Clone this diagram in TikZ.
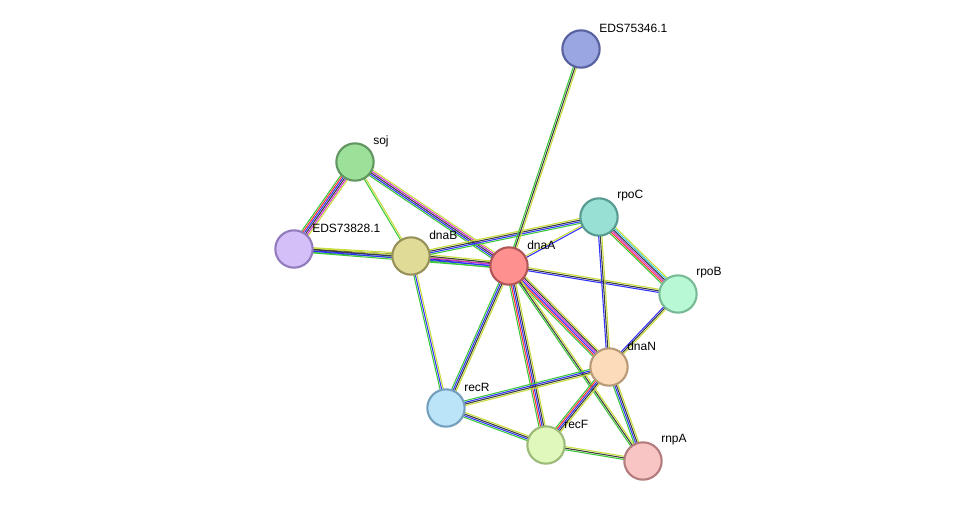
\documentclass[tikz,border=0pt]{standalone}
\usepackage{fontspec}
\setmainfont{Liberation Sans}
\usetikzlibrary{calc,backgrounds}

\definecolor{egreen}{HTML}{3CC83C}
\definecolor{eblue}{HTML}{3232FF}
\definecolor{eblack}{HTML}{3C3C3C}
\definecolor{eyellow}{HTML}{C8DC3C}
\definecolor{ered}{HTML}{FF3232}
\definecolor{emagenta}{HTML}{D232D2}
\definecolor{ecyan}{HTML}{3CC8DC}

% #1,#2 nodes, #3 number of lines, #4 colours
\newcommand\stringedge[4]{%
  \foreach \c [count=\i] in {#4} {
    \pgfmathsetmacro\off{(\i-(#3+1)/2)*1.2}
    \draw[\c, line width=0.8pt] ($(#1.center)!\off pt!90:(#2.center)$) -- ($(#2.center)!\off pt!-90:(#1.center)$);
  }%
}

\begin{document}
\begin{tikzpicture}[x=0.75pt,y=-0.75pt]

  \tikzset{prot/.style={circle, minimum size=28pt, inner sep=0pt, line width=1.6pt},
           plabel/.style={anchor=west, font=\fontsize{9}{10}\selectfont, inner sep=0pt}}

  \useasboundingbox (0,0) rectangle (976,507);

  \node (eds75) [prot, fill={rgb,255:red,154;green,166;blue,224}, draw={rgb,255:red,88;green,98;blue,160}] at (581,49) {};
  \node (soj) [prot, fill={rgb,255:red,157;green,224;blue,154}, draw={rgb,255:red,98;green,150;blue,96}] at (355,162) {};
  \node (eds73) [prot, fill={rgb,255:red,212;green,191;blue,248}, draw={rgb,255:red,146;green,124;blue,190}] at (294,249) {};
  \node (dnaB) [prot, fill={rgb,255:red,224;green,220;blue,152}, draw={rgb,255:red,150;green,146;blue,90}] at (411,256) {};
  \node (dnaA) [prot, fill={rgb,255:red,255;green,144;blue,144}, draw={rgb,255:red,176;green,86;blue,86}] at (509,266) {};
  \node (rpoC) [prot, fill={rgb,255:red,152;green,224;blue,212}, draw={rgb,255:red,86;green,154;blue,144}] at (599,217) {};
  \node (rpoB) [prot, fill={rgb,255:red,184;green,248;blue,212}, draw={rgb,255:red,120;green,186;blue,150}] at (678,294) {};
  \node (dnaN) [prot, fill={rgb,255:red,252;green,220;blue,184}, draw={rgb,255:red,184;green,154;blue,120}] at (609,367) {};
  \node (recR) [prot, fill={rgb,255:red,188;green,228;blue,248}, draw={rgb,255:red,116;green,160;blue,190}] at (446,408) {};
  \node (recF) [prot, fill={rgb,255:red,224;green,248;blue,188}, draw={rgb,255:red,156;green,186;blue,120}] at (546,445) {};
  \node (rnpA) [prot, fill={rgb,255:red,248;green,196;blue,196}, draw={rgb,255:red,180;green,124;blue,124}] at (643,461) {};

  % labels
  \foreach \n/\t in {eds75/EDS75346.1, soj/soj, eds73/EDS73828.1, dnaB/dnaB, dnaA/dnaA, rpoC/rpoC,
                     rpoB/rpoB, dnaN/dnaN, recR/recR, recF/recF, rnpA/rnpA}
    \node [plabel] at ($(\n.center)+(18,-21)$) {\t};

  % edges
  \begin{pgfonlayer}{background}
    \stringedge{soj}{eds73}{6}{egreen,ered,eblue,eblack,emagenta,eyellow}
    \stringedge{soj}{dnaB}{2}{egreen,eyellow}
    \stringedge{soj}{dnaA}{5}{egreen,eblue,eblack,emagenta,eyellow}
    \stringedge{eds73}{dnaB}{4}{egreen,eblue,eblack,eyellow}
    \stringedge{eds73}{dnaA}{4}{egreen,eblue,eblack,eyellow}
    \stringedge{dnaB}{dnaA}{5}{egreen,eblue,emagenta,eblack,eyellow}
    \stringedge{dnaB}{rpoC}{4}{egreen,eblue,eblack,eyellow}
    \stringedge{dnaB}{recR}{3}{egreen,eblue,eyellow}
    \stringedge{dnaA}{eds75}{3}{eyellow,eblack,egreen}
    \stringedge{dnaA}{rpoC}{2}{eblue,eyellow}
    \stringedge{dnaA}{rpoB}{3}{eblue,eblack,eyellow}
    \stringedge{dnaA}{dnaN}{6}{egreen,ered,eblue,emagenta,eblack,eyellow}
    \stringedge{dnaA}{recR}{4}{egreen,eblue,eblack,eyellow}
    \stringedge{dnaA}{recF}{5}{egreen,ered,eblue,eblack,eyellow}
    \stringedge{dnaA}{rnpA}{3}{egreen,eblack,eyellow}
    \stringedge{rpoC}{rpoB}{6}{egreen,ered,emagenta,eblack,ecyan,eyellow}
    \stringedge{rpoC}{dnaN}{3}{eblue,eblack,eyellow}
    \stringedge{rpoB}{dnaN}{3}{eblue,eblack,eyellow}
    \stringedge{dnaN}{recR}{4}{egreen,eblue,eblack,eyellow}
    \stringedge{dnaN}{recF}{5}{egreen,ered,eblue,eblack,eyellow}
    \stringedge{dnaN}{rnpA}{4}{egreen,eblue,eblack,eyellow}
    \stringedge{recR}{recF}{4}{egreen,eblue,eblack,eyellow}
    \stringedge{recF}{rnpA}{3}{egreen,eblack,eyellow}
  \end{pgfonlayer}

\end{tikzpicture}
\end{document}
